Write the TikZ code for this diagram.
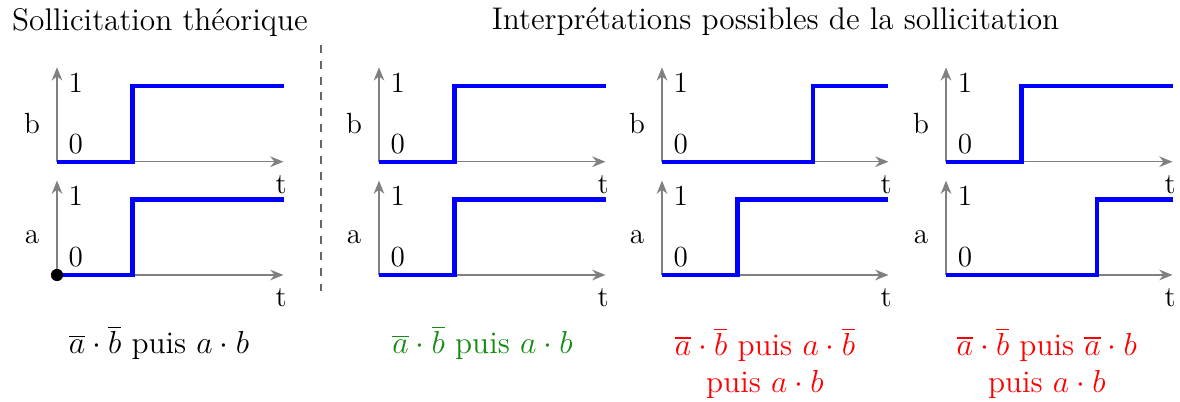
\documentclass[tikz,border=0pt]{standalone}
\usetikzlibrary{arrows.meta}
\definecolor{okgreen}{RGB}{20,140,20}
\tikzset{
  axis/.style={gray, line width=0.5pt, -{Stealth[length=5pt,width=4pt]}},
  sig/.style={blue, line width=1.6pt},
  lab/.style={inner sep=0pt, font=\fontsize{11}{13}\selectfont},
  caption/.style={align=center, inner sep=0pt, font=\fontsize{11.8}{14}\selectfont},
}
\newcommand\mychrono[5]{% #1 x, #2 y, #3 letter, #4 step, #5 name
  \begin{scope}[shift={(#1,#2)}]
    \draw[axis] (0,0) -- (3,0);
    \draw[axis] (0,0) -- (0,1.25);
    \draw[sig] (0,0) -- (#4,0) -- (#4,1) -- (3,1);
    \node[lab] (#5one) at (0.25,1.05) {1};
    \node[lab] (#5zero) at (0.25,0.24) {0};
    \node[lab] (#5name) at (-0.33,0.5) {#3};
    \node[lab] (#5t) at (2.97,-0.3) {t};
  \end{scope}}
\begin{document}
\begin{tikzpicture}
\useasboundingbox (-0.755,-1.682) rectangle (14.874,3.642);
% titles
\node[caption] (t1) at (1.364,3.35) {Sollicitation théorique};
\node[caption] (t2) at (9.517,3.35) {Interprétations possibles de la sollicitation};
% separator
\draw[dashed, gray!80!black] (3.497,3.05) -- (3.497,-0.265);
% panel 1
\mychrono{0}{1.5}{b}{1}{pbA}
\mychrono{0}{0}{a}{1}{paA}
\fill (0,0) circle (2.3pt);
% panel 2
\mychrono{4.265}{1.5}{b}{1}{pbB}
\mychrono{4.265}{0}{a}{1}{paB}
% panel 3
\mychrono{8.013}{1.5}{b}{2}{pbC}
\mychrono{8.013}{0}{a}{1}{paC}
% panel 4
\mychrono{11.775}{1.5}{b}{1}{pbD}
\mychrono{11.775}{0}{a}{2}{paD}
% captions
\node[caption] (c1) at (1.35,-0.90) {$\overline{a}\cdot\overline{b}$ puis $a\cdot b$};
\node[caption, text=okgreen] (c2) at (5.636,-0.90) {$\overline{a}\cdot\overline{b}$ puis $a\cdot b$};
\node[caption, text=red] (c3) at (9.377,-1.17) {$\overline{a}\cdot\overline{b}$ puis $a\cdot\overline{b}$\\ puis $a\cdot b$};
\node[caption, text=red] (c4) at (13.11,-1.17) {$\overline{a}\cdot\overline{b}$ puis $\overline{a}\cdot b$\\ puis $a\cdot b$};
\end{tikzpicture}
\end{document}
